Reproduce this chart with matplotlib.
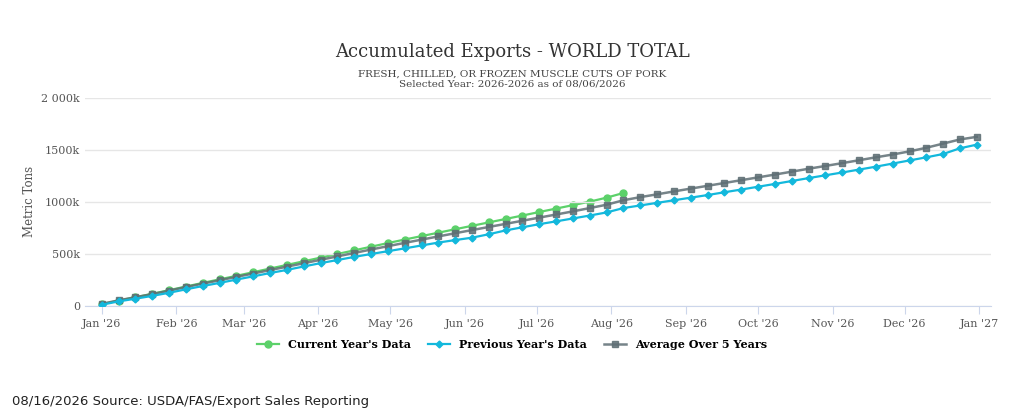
import matplotlib
matplotlib.use("Agg")
import matplotlib.pyplot as plt
import matplotlib.dates as mdates
import matplotlib.ticker as mticker
import datetime as dt

start = dt.date(2026, 1, 1)
weeks = [start + dt.timedelta(days=7 * i) for i in range(53)]

current = [15, 50, 82, 115, 150, 185, 220, 254, 288, 323, 358, 393, 428, 463, 498,
           533, 568, 603, 637, 670, 703, 736, 769, 802, 835, 868, 902, 935, 968, 1002,
           1040, 1085]
previous = [10, 42, 68, 95, 125, 158, 190, 220, 252, 283, 315, 345, 378, 410, 440,
            470, 498, 525, 552, 580, 608, 632, 655, 688, 725, 755, 785, 812, 840, 868,
            898, 940, 965, 990, 1015, 1040, 1065, 1092, 1118, 1145, 1172, 1200, 1228,
            1255, 1282, 1310, 1338, 1368, 1398, 1428, 1460, 1515, 1550]
average = [18, 52, 82, 112, 145, 180, 213, 245, 278, 310, 343, 376, 409, 442, 475,
           508, 541, 573, 605, 636, 667, 698, 728, 758, 788, 818, 848, 878, 908, 940,
           972, 1015, 1045, 1072, 1100, 1127, 1154, 1181, 1208, 1235, 1262, 1290, 1318,
           1345, 1372, 1400, 1428, 1455, 1485, 1520, 1560, 1600, 1625]

green, cyan, grey = "#5cd16a", "#13b8dc", "#5e6e74"

fig = plt.figure(figsize=(10.24, 4.2), dpi=100)
ax = fig.add_axes([0.083, 0.272, 0.885, 0.495])
ax.plot(weeks[:len(average)], average, color=grey, lw=1.8, marker="s", ms=5, alpha=0.85,
        label="Average Over 5 Years", zorder=2)
ax.plot(weeks[:len(previous)], previous, color=cyan, lw=1.6, marker="D", ms=3.5,
        label="Previous Year's Data", zorder=3)
ax.plot(weeks[:len(current)], current, color=green, lw=1.6, marker="o", ms=5,
        label="Current Year's Data", zorder=1)

ax.set_xlim(dt.date(2025, 12, 25), dt.date(2027, 1, 6))
ax.set_ylim(0, 2000)
ax.yaxis.set_major_locator(mticker.MultipleLocator(500))
ax.yaxis.set_major_formatter(mticker.FuncFormatter(
    lambda v, p: "0" if v == 0 else ("2 000k" if v == 2000 else f"{int(v)}k")))
ax.xaxis.set_major_locator(mdates.MonthLocator())
ax.xaxis.set_major_formatter(mdates.DateFormatter("%b '%y"))
ax.grid(axis="y", color="#e6e6e6", lw=1)
for s in ["top", "right", "left"]:
    ax.spines[s].set_visible(False)
ax.spines["bottom"].set_color("#ccd6eb")
ax.tick_params(axis="y", length=0, labelsize=8, colors="#555555")
ax.tick_params(axis="x", length=6, color="#ccd6eb", labelsize=8, colors="#555555")
for t in ax.get_xticklabels() + ax.get_yticklabels():
    t.set_family("DejaVu Serif")
ax.set_ylabel("Metric Tons", family="DejaVu Serif", fontsize=8.5, color="#555555")

fig.text(0.5, 0.865, "Accumulated Exports - WORLD TOTAL", ha="center", fontsize=13,
         family="DejaVu Serif", color="#333333")
fig.text(0.5, 0.795, "FRESH, CHILLED, OR FROZEN MUSCLE CUTS OF PORK\nSelected Year: 2026-2026 as of 08/06/2026",
         ha="center", fontsize=7.5, family="DejaVu Serif", color="#444444", linespacing=1.1)

h, l = ax.get_legend_handles_labels()
order = [2, 1, 0]
fig.legend([h[i] for i in order], [l[i] for i in order], loc="center",
           bbox_to_anchor=(0.5, 0.18), ncol=3, frameon=False,
           handlelength=2, columnspacing=1.5,
           prop={"family": "DejaVu Serif", "weight": "bold", "size": 8})
fig.text(0.012, 0.035, "08/16/2026 Source: USDA/FAS/Export Sales Reporting", fontsize=9.5,
         color="#222222")

fig.savefig("out.png", dpi=100)
